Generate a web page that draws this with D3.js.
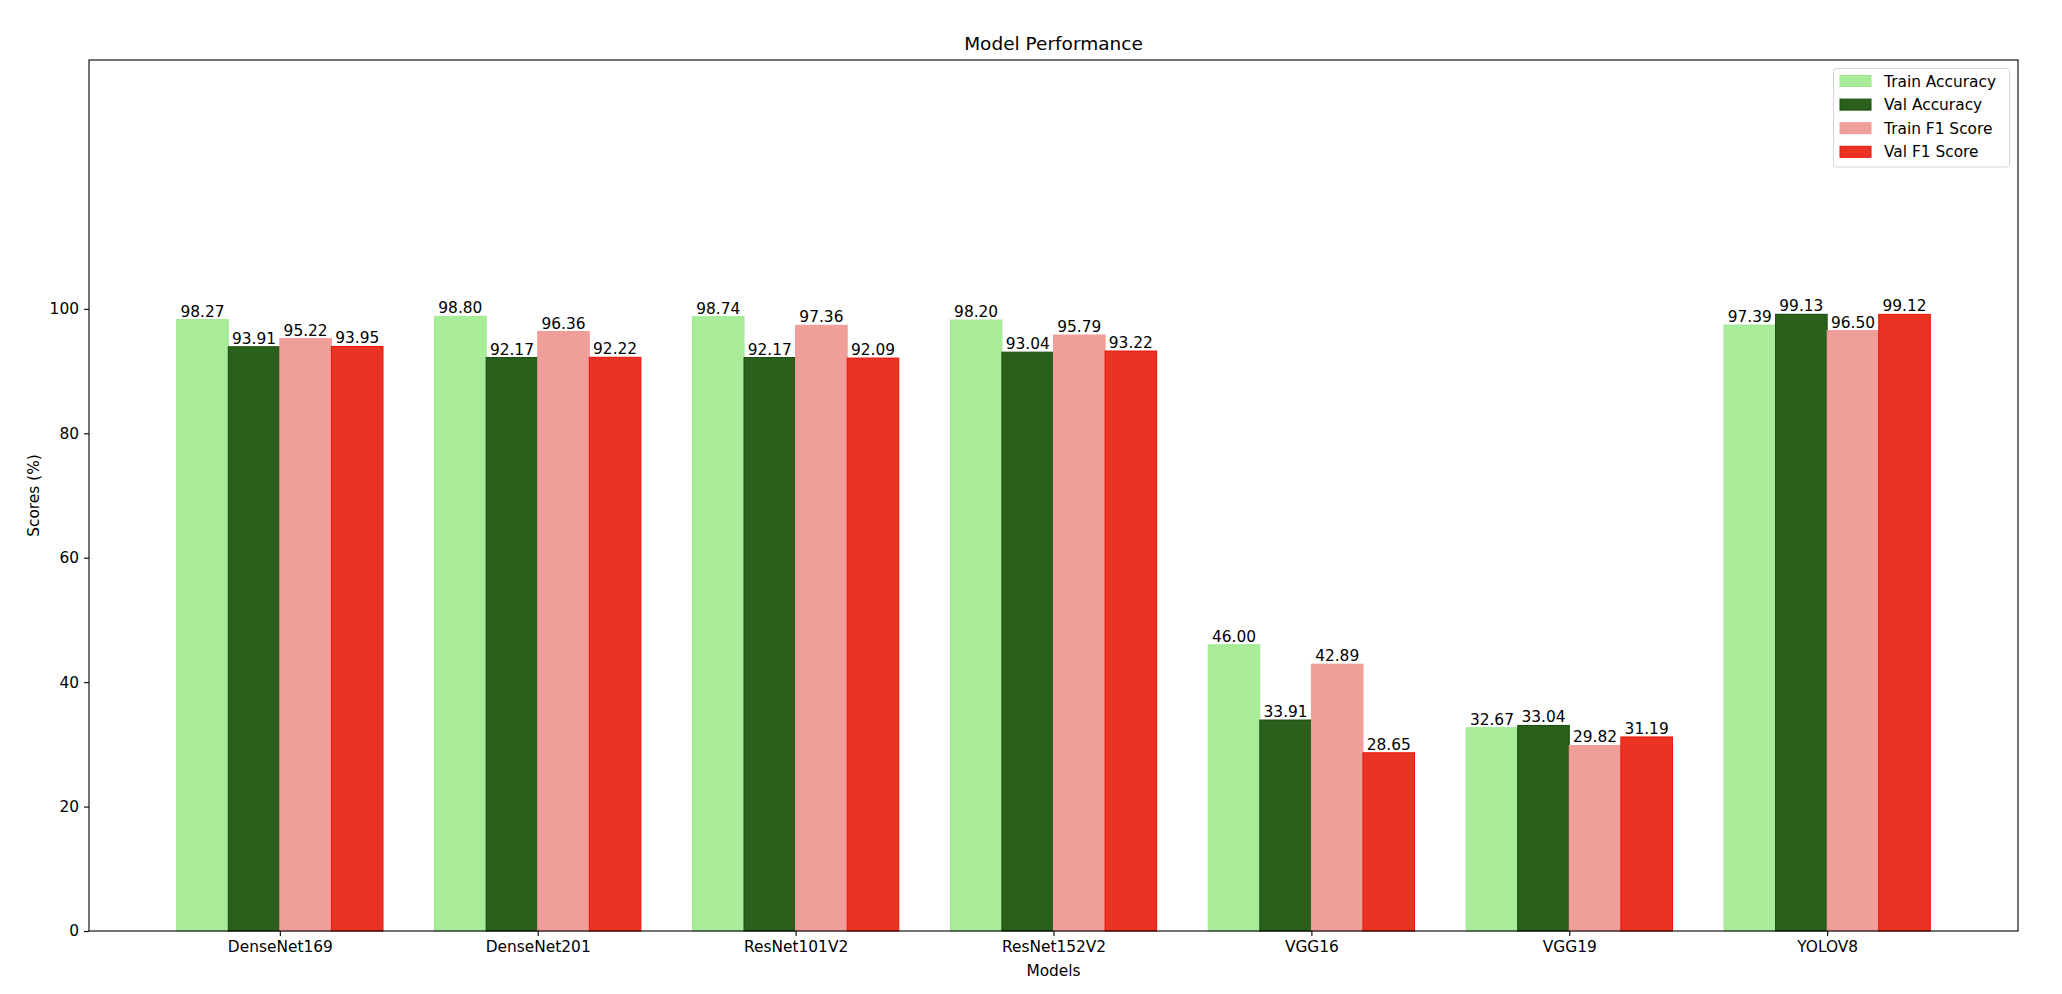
<!DOCTYPE html>
<html><head><meta charset="utf-8">
<script src="https://cdn.jsdelivr.net/npm/d3@7"></script>
<style>body{margin:0;background:#fff;} svg{display:block;} text{font-family:"DejaVu Sans",sans-serif;fill:#000;}</style>
</head><body>
<svg id="c" width="2062" height="994"></svg>
<script>
const models = ["DenseNet169","DenseNet201","ResNet101V2","ResNet152V2","VGG16","VGG19","YOLOV8"];
const seriesNames = ["Train Accuracy","Val Accuracy","Train F1 Score","Val F1 Score"];
const trainAcc = [98.27, 98.80, 98.74, 98.20, 46.00, 32.67, 97.39];
const valAcc   = [93.91, 92.17, 92.17, 93.04, 33.91, 33.04, 99.13];
const trainF1  = [95.22, 96.36, 97.36, 95.79, 42.89, 29.82, 96.50];
const valF1    = [93.95, 92.22, 92.09, 93.22, 28.65, 31.19, 99.12];
const yTicks = [0, 20, 40, 60, 80, 100];
const fills = ["#a8eb98", "#2a601b", "#f09e9a", "#eb3323"];
const edges = ["#a0e890", "#154d0c", "#f29b98", "#e8140c"];
const series = [trainAcc, valAcc, trainF1, valF1];

const L = 89, R = 2018, T = 60, B = 931;
const svg = d3.select("#c");
const barW = 0.2;
const x = d3.scaleLinear().domain([-0.74, models.length - 1 + 0.74]).range([L, R]);
const y = d3.scaleLinear().domain([0, 140]).range([B, T]);

// bars
series.forEach((vals, si) => {
  const off = (si - 1.5) * barW;
  const g = svg.append("g");
  g.selectAll("rect").data(vals).enter().append("rect")
    .attr("x", (d, i) => x(i + off - barW / 2))
    .attr("width", (d, i) => x(i + off + barW / 2) - x(i + off - barW / 2))
    .attr("y", d => y(d))
    .attr("height", d => y(0) - y(d))
    .attr("fill", fills[si])
    .attr("stroke", edges[si]).attr("stroke-width", 1);
  g.selectAll("text").data(vals).enter().append("text")
    .attr("x", (d, i) => x(i + off))
    .attr("y", d => y(d) - 3)
    .attr("text-anchor", "middle")
    .style("font-size", "15.4px")
    .text(d => d.toFixed(2));
});

// axes
const yAxis = d3.axisLeft(y).tickValues(yTicks).tickSize(5).tickPadding(5).tickFormat(d3.format("d"));
const ya = svg.append("g").attr("transform", `translate(${L},0)`).call(yAxis);
const xAxis = d3.axisBottom(x).tickValues(d3.range(models.length)).tickSize(5).tickPadding(5).tickFormat(i => models[i]);
const xa = svg.append("g").attr("transform", `translate(0,${B})`).call(xAxis);
[ya, xa].forEach(a => {
  a.select(".domain").remove();
  a.selectAll("text").style("font-size", "15.4px").style("font-family", "DejaVu Sans").attr("fill", "#000");
  a.selectAll("line").attr("stroke", "#000").attr("stroke-width", 1.1);
});

// frame
svg.append("rect").attr("x", L).attr("y", T).attr("width", R - L).attr("height", B - T)
  .attr("fill", "none").attr("stroke", "#000").attr("stroke-width", 1.1);

// title & labels
svg.append("text").attr("x", (L + R) / 2).attr("y", 50).attr("text-anchor", "middle")
  .style("font-size", "18.5px").text("Model Performance");
svg.append("text").attr("x", (L + R) / 2).attr("y", 976).attr("text-anchor", "middle")
  .style("font-size", "15.4px").text("Models");
svg.append("text").attr("transform", `translate(39,${(T + B) / 2}) rotate(-90)`).attr("text-anchor", "middle")
  .style("font-size", "15.4px").text("Scores (%)");

// legend
const lg = svg.append("g");
lg.append("rect").attr("x", 1833.5).attr("y", 68.5).attr("width", 176).attr("height", 98.5)
  .attr("rx", 3).attr("fill", "#fff").attr("fill-opacity", 0.8).attr("stroke", "#d6d6d6");
seriesNames.forEach((n, i) => {
  const cy = 81 + i * 23.6;
  lg.append("rect").attr("x", 1840).attr("y", cy - 5.5).attr("width", 31).attr("height", 11)
    .attr("fill", fills[i]).attr("stroke", edges[i]).attr("stroke-width", 1);
  lg.append("text").attr("x", 1884).attr("y", cy + 5.5).style("font-size", "15.4px").text(n);
});
</script>
</body></html>
